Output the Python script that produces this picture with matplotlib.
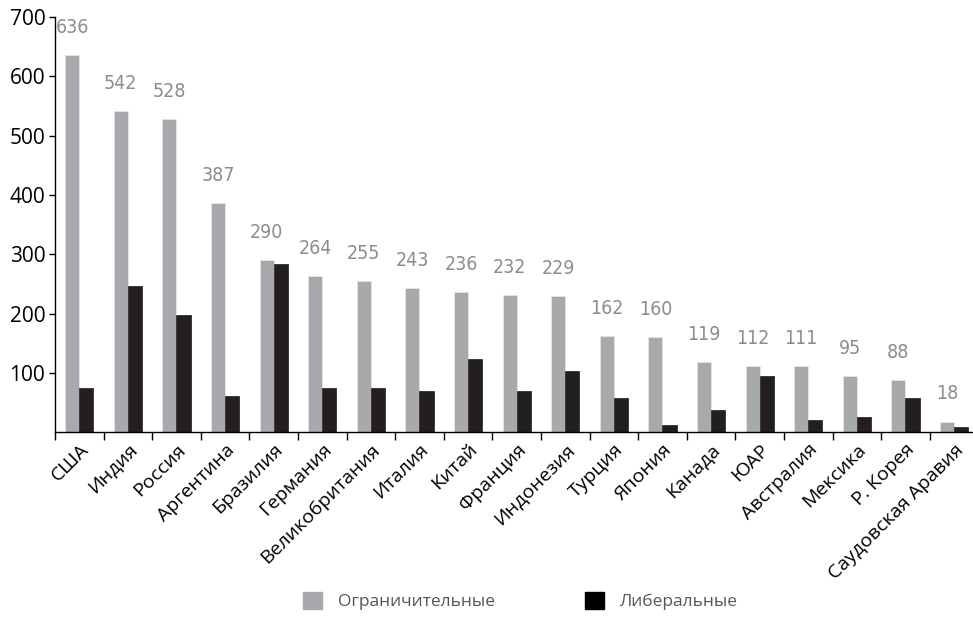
import numpy as np
from matplotlib import pyplot as plt
from matplotlib.patches import Patch

# countries and the two series
countries = ['США', 'Индия', 'Россия', 'Аргентина', 'Бразилия', 'Германия',
             'Великобритания', 'Италия', 'Китай', 'Франция', 'Индонезия',
             'Турция', 'Япония', 'Канада', 'ЮАР', 'Австралия', 'Мексика',
             'Р. Корея', 'Саудовская Аравия']
restrictive = [636, 542, 528, 387, 290, 264, 255, 243, 236, 232, 229,
               162, 160, 119, 112, 111, 95, 88, 18]
liberal = [74, 246, 197, 61, 283, 74, 74, 69, 123, 69, 103,
           57, 12, 37, 94, 20, 25, 57, 8]
yticks = [100, 200, 300, 400, 500, 600, 700]

gray = '#a7a9ac'
black = '#231f20'

plt.rcParams['font.family'] = ['Open Sans', 'DejaVu Sans']

fig = plt.figure(figsize=(9.73, 6.21), dpi=100)
ax = fig.add_axes([0.0565, 0.304, 0.949, 0.6686])

x = np.arange(len(countries))
w = 0.29
ax.bar(x - w / 2, restrictive, w, color=gray, edgecolor='#e6e6e6', linewidth=0.6)
ax.bar(x + w / 2, liberal, w, color=black, edgecolor='#3a2a2c', linewidth=0.6)

# value labels above the grey bars
for xi, v in zip(x, restrictive):
    ax.annotate(str(v), (xi - w / 2, v), xytext=(0, 13), textcoords='offset points',
                ha='center', va='bottom', fontsize=14, color='#8c8c8c',
                family=['Liberation Sans Narrow', 'DejaVu Sans'], stretch='condensed')

ax.set_xlim(-0.5, len(countries) - 0.5)
ax.set_ylim(0, 700)
ax.set_yticks(yticks)
ax.set_yticklabels([str(t) for t in yticks], fontsize=15)
ax.set_xticks(x)
ax.set_xticklabels(countries, rotation=45, ha='right', rotation_mode='anchor', fontsize=14)
ax.set_xticks(np.arange(-0.5, len(countries)), minor=True)
ax.tick_params(axis='x', which='major', length=0, pad=6)
ax.tick_params(axis='x', which='minor', length=6, width=1, color='black')
ax.tick_params(axis='y', length=4, width=1, pad=3)

for s in ['top', 'right']:
    ax.spines[s].set_visible(False)
for s in ['left', 'bottom']:
    ax.spines[s].set_linewidth(1)

handles = [Patch(color=gray, label='Ограничительные'),
           Patch(color='#000000', label='Либеральные')]
leg = fig.legend(handles=handles, loc='lower center', bbox_to_anchor=(0.535, -0.008),
                 ncol=2, frameon=False, fontsize=12.5, handlelength=1.1, handleheight=1.1,
                 columnspacing=5.2, handletextpad=0.9)
for t in leg.get_texts():
    t.set_color('#555555')

fig.savefig('out.png', dpi=100)
